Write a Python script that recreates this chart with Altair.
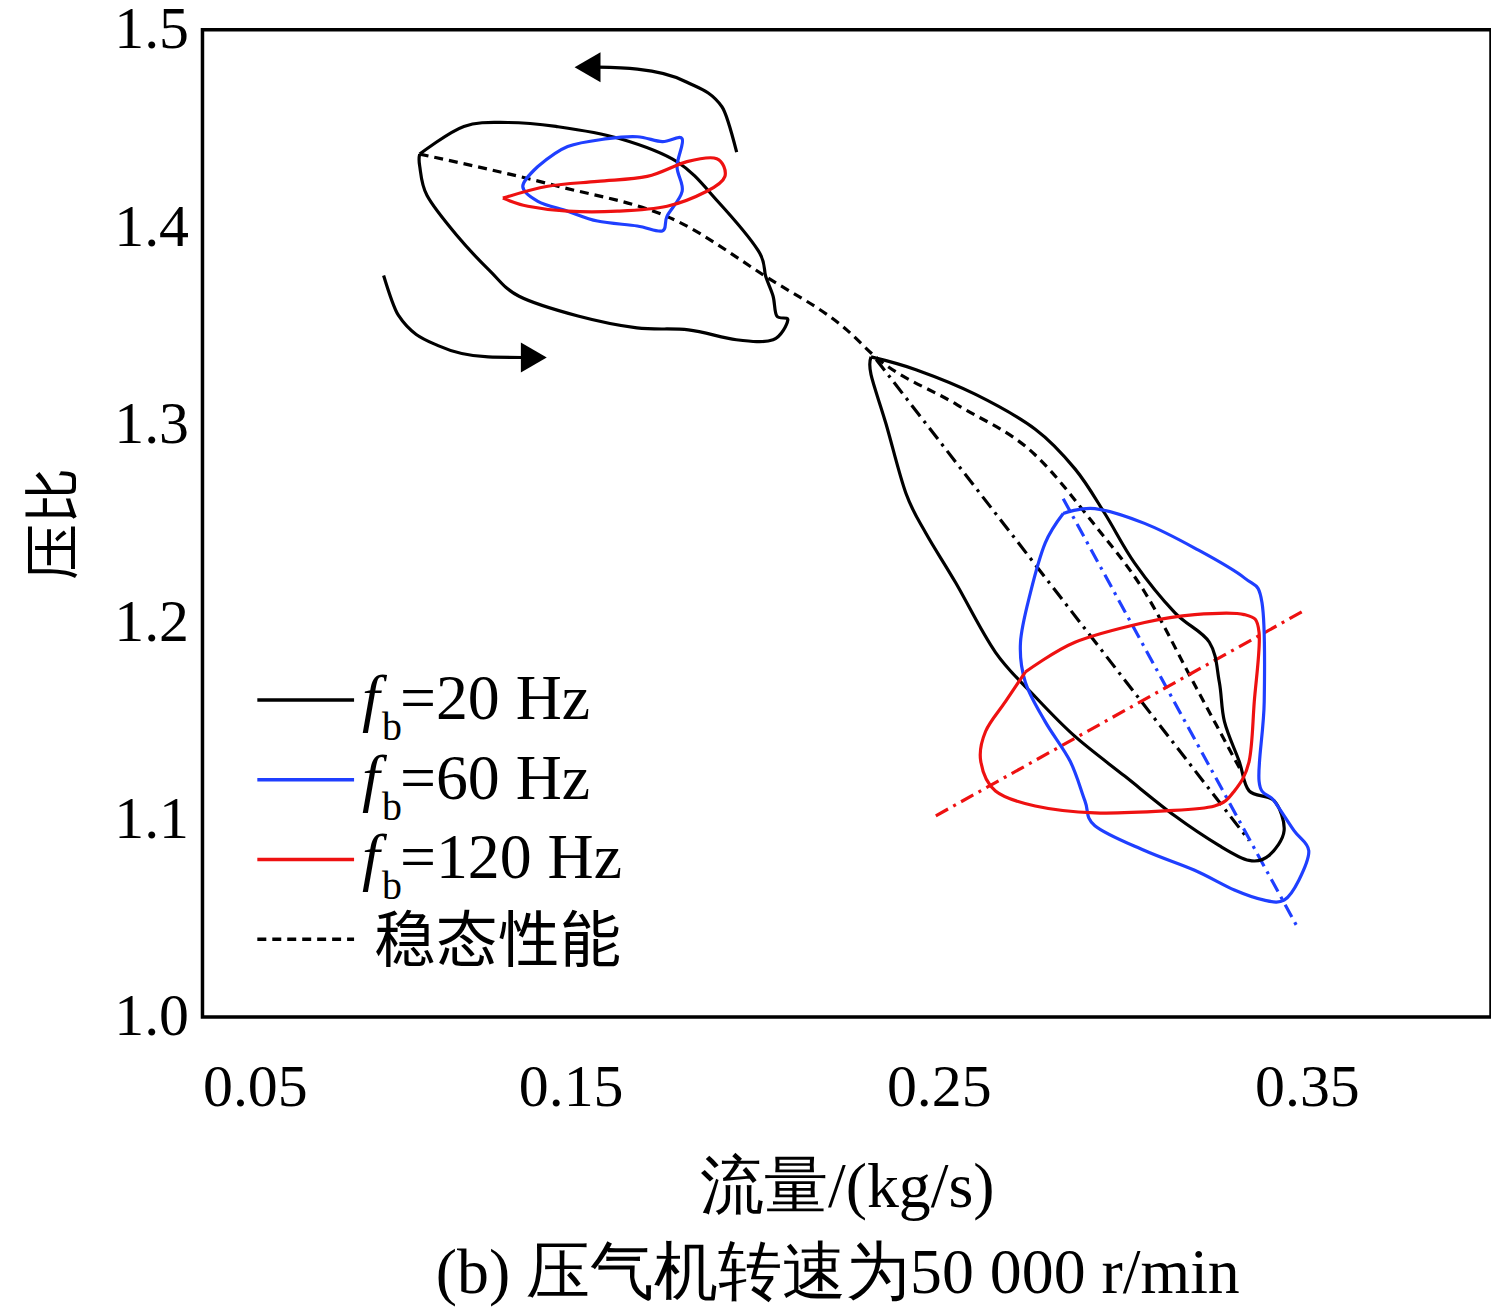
import altair as alt
import pandas as pd

# ---- data ----
up20_x = [0.109, 0.121, 0.133, 0.146, 0.163, 0.179, 0.190, 0.201, 0.203, 0.205, 0.206, 0.209, 0.205, 0.195, 0.182, 0.168, 0.152, 0.136, 0.128, 0.119, 0.111, 0.109, 0.109]
up20_y = [1.437, 1.451, 1.453, 1.451, 1.445, 1.433, 1.413, 1.388, 1.375, 1.365, 1.355, 1.353, 1.343, 1.343, 1.348, 1.349, 1.355, 1.365, 1.378, 1.396, 1.416, 1.431, 1.437]
lo20_x = [0.2316, 0.2438, 0.2600, 0.2762, 0.2870, 0.2951, 0.3032, 0.3141, 0.3235, 0.3262, 0.3276, 0.3316, 0.3343, 0.3411, 0.3438, 0.3397, 0.3343, 0.3262, 0.3141, 0.3005, 0.2870, 0.2762, 0.2654, 0.2546, 0.2465, 0.2411, 0.2357, 0.2316, 0.2316]
lo20_y = [1.3343, 1.3278, 1.3153, 1.2977, 1.2776, 1.2550, 1.2299, 1.2048, 1.1898, 1.1697, 1.1496, 1.1295, 1.1145, 1.1095, 1.0944, 1.0818, 1.0793, 1.0868, 1.1019, 1.1220, 1.1421, 1.1622, 1.1847, 1.2199, 1.2450, 1.2651, 1.3002, 1.3253, 1.3343]
up60_x = [0.1411, 0.1492, 0.1600, 0.1681, 0.1749, 0.1803, 0.1789, 0.1803, 0.1762, 0.1749, 0.1681, 0.1573, 0.1492, 0.1411, 0.1370, 0.1411]
up60_y = [1.4307, 1.4408, 1.4448, 1.4458, 1.4433, 1.4448, 1.4307, 1.4182, 1.4056, 1.3981, 1.4006, 1.4031, 1.4081, 1.4131, 1.4207, 1.4307]
lo60_x = [0.2838, 0.2924, 0.3059, 0.3195, 0.3330, 0.3378, 0.3384, 0.3370, 0.3411, 0.3465, 0.3505, 0.3478, 0.3438, 0.3384, 0.3303, 0.3195, 0.3059, 0.2924, 0.2897, 0.2857, 0.2789, 0.2735, 0.2722, 0.2749, 0.2789, 0.2838]
lo60_y = [1.2550, 1.2575, 1.2500, 1.2375, 1.2224, 1.2098, 1.1597, 1.1195, 1.1095, 1.0944, 1.0843, 1.0693, 1.0592, 1.0592, 1.0643, 1.0743, 1.0843, 1.0969, 1.1095, 1.1295, 1.1496, 1.1697, 1.1898, 1.2149, 1.2400, 1.2550]
up120_x = [0.1316, 0.1438, 0.1573, 0.1708, 0.1816, 0.1897, 0.1919, 0.1870, 0.1762, 0.1627, 0.1492, 0.1384, 0.1316]
up120_y = [1.4147, 1.4207, 1.4232, 1.4257, 1.4332, 1.4347, 1.4257, 1.4182, 1.4106, 1.4081, 1.4081, 1.4106, 1.4147]
lo120_x = [0.2735, 0.2870, 0.3059, 0.3195, 0.3330, 0.3370, 0.3357, 0.3343, 0.3303, 0.3249, 0.3114, 0.2924, 0.2762, 0.2654, 0.2614, 0.2627, 0.2681, 0.2735]
lo120_y = [1.1747, 1.1898, 1.1998, 1.2038, 1.2038, 1.1948, 1.1597, 1.1295, 1.1145, 1.1069, 1.1044, 1.1034, 1.1069, 1.1145, 1.1295, 1.1446, 1.1597, 1.1747]
steady_x = [0.109, 0.146, 0.179, 0.203, 0.225, 0.233, 0.255, 0.276, 0.292, 0.306, 0.319, 0.332]
steady_y = [1.437, 1.421, 1.403, 1.375, 1.348, 1.334, 1.310, 1.285, 1.250, 1.215, 1.170, 1.125]
fit20_x, fit20_y = [0.233, 0.3343], [1.333, 1.0894]
fit60_x, fit60_y = [0.2838, 0.3478], [1.2625, 1.0442]
fit120_x, fit120_y = [0.2492, 0.3492], [1.1019, 1.2058]
arc_top_x = [0.1951, 0.1911, 0.1816, 0.1681, 0.1573]
arc_top_y = [1.438, 1.461, 1.4734, 1.480, 1.481]
arc_bot_x = [0.0992, 0.1032, 0.1140, 0.1276, 0.137]
arc_bot_y = [1.3755, 1.3554, 1.340, 1.3343, 1.334]
head_x = [0.1546, 0.140]
head_y = [1.481, 1.334]
head_shape = ['triangle-left', 'triangle-right']

legend_labels = ['=20 Hz', '=60 Hz', '=120 Hz']
legend_colors = ['black', '#1f3fff', '#ee1111']

W, H = 1292, 990
FONT = 'Liberation Serif'
CJK = 'Noto Sans CJK SC'
xs = alt.Scale(domain=[0.05, 0.4], nice=False)
ys = alt.Scale(domain=[1.0, 1.5], nice=False)


def frame(x, y):
    return pd.DataFrame({'x': x, 'y': y, 'i': range(len(x))})


def line(x, y, color, dash=None, width=3.2, interp='linear'):
    kw = dict(color=color, strokeWidth=width, clip=False, interpolate=interp)
    if dash:
        kw['strokeDash'] = dash
    return alt.Chart(frame(x, y)).mark_line(**kw).encode(
        x=alt.X('x:Q', scale=xs), y=alt.Y('y:Q', scale=ys), order='i:Q')


def loop(x, y, color):
    return line(x, y, color, interp='cardinal')


def label(text, x, y, size, font=FONT, style='normal'):
    return alt.Chart(frame([0], [0])).mark_text(
        text=text, font=font, fontSize=size, fontStyle=style, align='left', baseline='middle'
    ).encode(x=alt.value(x), y=alt.value(y))


base = alt.Chart(frame([0.05], [1.0])).mark_point(opacity=0).encode(
    x=alt.X('x:Q', scale=xs, title='流量/(kg/s)',
            axis=alt.Axis(values=[0.05, 0.15, 0.25, 0.35], format='.2f', grid=False, ticks=False,
                          labelFontSize=60, labelFont=FONT, labelColor='black', labelPadding=42,
                          titleFontSize=64, titleFont=FONT, titleFontWeight='normal',
                          titleColor='black', titlePadding=38, domain=False)),
    y=alt.Y('y:Q', scale=ys, title='压比',
            axis=alt.Axis(values=[1.0, 1.1, 1.2, 1.3, 1.4, 1.5], format='.1f', grid=False, ticks=False,
                          labelFontSize=60, labelFont=FONT, labelColor='black', labelPadding=14,
                          titleFontSize=56, titleFont=CJK, titleFontWeight='normal',
                          titleColor='black', titlePadding=30, domain=False)))

layers = [
    base,
    line(steady_x, steady_y, 'black', [9, 6], interp='monotone'),
    line(fit20_x, fit20_y, 'black', [14, 6, 3, 6]),
    line(fit60_x, fit60_y, legend_colors[1], [14, 6, 3, 6]),
    line(fit120_x, fit120_y, legend_colors[2], [14, 6, 3, 6]),
    loop(up20_x, up20_y, 'black'), loop(lo20_x, lo20_y, 'black'),
    loop(up60_x, up60_y, legend_colors[1]), loop(lo60_x, lo60_y, legend_colors[1]),
    loop(up120_x, up120_y, legend_colors[2]), loop(lo120_x, lo120_y, legend_colors[2]),
    line(arc_top_x, arc_top_y, 'black', interp='monotone'),
    line(arc_bot_x, arc_bot_y, 'black', interp='monotone'),
    alt.Chart(pd.DataFrame({'x': head_x, 'y': head_y, 's': head_shape})).mark_point(
        filled=True, color='black', size=900, opacity=1).encode(
        x=alt.X('x:Q', scale=xs), y=alt.Y('y:Q', scale=ys),
        shape=alt.Shape('s:N', scale=alt.Scale(domain=head_shape, range=head_shape), legend=None)),
]

# legend drawn by hand
rows = [672, 752, 832]
for r, lab, col in zip(rows, legend_labels, legend_colors):
    layers.append(alt.Chart(frame([0], [0])).mark_rule(color=col, strokeWidth=3.5).encode(
        x=alt.value(55), x2=alt.value(152), y=alt.value(r)))
    layers.append(label('f', 160, r, 64, style='italic'))
    layers.append(label('b', 180, r + 28, 40))
    layers.append(label(lab, 198, r, 64))
layers.append(alt.Chart(frame([0], [0])).mark_rule(color='black', strokeWidth=3.5, strokeDash=[9, 6]).encode(
    x=alt.value(55), x2=alt.value(152), y=alt.value(912)))
layers.append(label('稳态性能', 172, 916, 62, font=CJK))
layers.append(alt.Chart(frame([0], [0])).mark_text(
    text='(b) 压气机转速为50 000 r/min', font=FONT, fontSize=64, align='center', baseline='middle'
).encode(x=alt.value(637), y=alt.value(1248)))

chart = alt.layer(*layers).properties(
    width=W, height=H, autosize=alt.AutoSizeParams(type='none'), background='white',
    padding={'left': 195, 'top': 20, 'right': 0, 'bottom': 290}
).configure_view(stroke='black', strokeWidth=3.5)

chart.save("out.html", embed_options={"renderer": "svg", "actions": False})
